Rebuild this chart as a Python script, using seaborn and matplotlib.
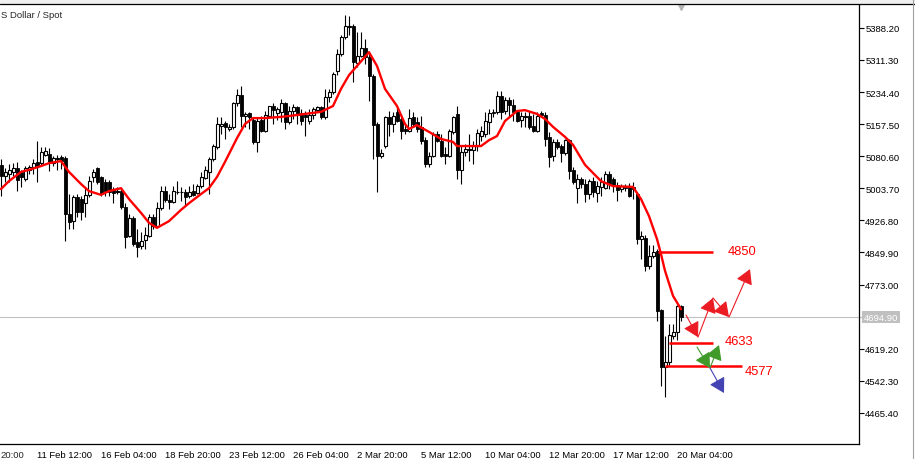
import numpy as np
import pandas as pd
import seaborn as sns
import matplotlib.pyplot as plt
import matplotlib.transforms as mtransforms
from matplotlib.lines import Line2D
from matplotlib.patches import Rectangle

# H4 candles (bar index 0 = left edge)
open_ = [5060, 5033, 5038, 5043, 5052, 5043, 5026, 5048, 5055, 5067,
         5064, 5084, 5086, 5064, 5074, 5079, 5076, 4942, 4925, 4983,
         4978, 4969, 4988, 5031, 5052, 5031, 5019, 5019, 5000, 4995,
         4997, 4959, 4889, 4933, 4875, 4865, 4880, 4889, 4935, 4913,
         4956, 4997, 4976, 4971, 4994, 4994, 4995, 4985, 4997, 4993,
         5009, 5028, 5043, 5074, 5103, 5153, 5160, 5146, 5151, 5208,
         5227, 5177, 5184, 5167, 5115, 5167, 5141, 5177, 5201, 5184,
         5187, 5208, 5163, 5189, 5198, 5184, 5179, 5165, 5179, 5191,
         5198, 5175, 5223, 5235, 5285, 5326, 5367, 5390, 5393, 5304,
         5321, 5340, 5318, 5273, 5158, 5081, 5105, 5175, 5158, 5187,
         5170, 5146, 5141, 5175, 5163, 5151, 5119, 5062, 5081, 5134,
         5117, 5086, 5081, 5139, 5182, 5048, 5091, 5096, 5096, 5105,
         5129, 5134, 5163, 5187, 5187, 5225, 5189, 5215, 5203, 5187,
         5167, 5175, 5177, 5153, 5141, 5184, 5179, 5127, 5081, 5115,
         5105, 5088, 5119, 5048, 5004, 5026, 5014, 4990, 5021, 4993,
         5007, 5004, 5038, 5026, 5012, 5002, 5009, 5007, 5007, 4990,
         4882, 4885, 4817, 4841, 4854, 4712, 4575, 4587, 4650, 4659,
         4722]
high = [5074, 5052, 5062, 5064, 5067, 5048, 5057, 5060, 5074, 5117,
        5103, 5103, 5100, 5081, 5084, 5084, 5081, 4990, 4988, 4990,
        4985, 5007, 5033, 5050, 5055, 5033, 5026, 5024, 5007, 5007,
        5005, 4969, 4942, 4937, 4906, 4899, 4911, 4942, 4942, 4971,
        5009, 5009, 4990, 5009, 5021, 5007, 5002, 5009, 5014, 5014,
        5043, 5057, 5079, 5110, 5175, 5175, 5165, 5158, 5211, 5242,
        5249, 5187, 5187, 5175, 5175, 5177, 5189, 5201, 5208, 5198,
        5218, 5211, 5201, 5206, 5201, 5194, 5189, 5194, 5198, 5201,
        5201, 5242, 5242, 5282, 5338, 5371, 5419, 5417, 5398, 5378,
        5378, 5362, 5330, 5278, 5163, 5098, 5177, 5189, 5187, 5198,
        5177, 5158, 5194, 5187, 5175, 5177, 5127, 5091, 5139, 5141,
        5134, 5103, 5146, 5177, 5201, 5105, 5110, 5134, 5117, 5146,
        5153, 5187, 5194, 5194, 5237, 5237, 5223, 5223, 5218, 5189,
        5187, 5187, 5189, 5182, 5187, 5189, 5187, 5139, 5122, 5122,
        5110, 5122, 5122, 5055, 5038, 5031, 5026, 5026, 5031, 5021,
        5031, 5045, 5045, 5031, 5019, 5014, 5014, 5016, 5019, 4995,
        4901, 4892, 4868, 4868, 4858, 4714, 4650, 4678, 4678, 4724,
        4724]
low = [4985, 5019, 5019, 5033, 4997, 5007, 5021, 5038, 5038, 5019,
       5060, 5081, 5045, 5057, 5048, 5050, 4877, 4906, 4906, 4935,
       4928, 4935, 4983, 5019, 5014, 4985, 4985, 4985, 4969, 4990,
       4954, 4861, 4887, 4865, 4839, 4858, 4858, 4887, 4906, 4911,
       4952, 4971, 4954, 4969, 4990, 4973, 4961, 4981, 4985, 4990,
       5005, 5026, 4990, 5069, 5098, 5134, 5122, 5141, 5146, 5201,
       5151, 5151, 5146, 5110, 5091, 5139, 5139, 5175, 5158, 5167,
       5163, 5146, 5158, 5170, 5158, 5155, 5129, 5158, 5170, 5187,
       5170, 5170, 5211, 5230, 5275, 5321, 5362, 5371, 5259, 5295,
       5318, 5302, 5213, 5074, 4995, 5076, 5100, 5129, 5139, 5163,
       5122, 5134, 5139, 5151, 5139, 5110, 5055, 5055, 5079, 5115,
       5079, 5062, 5079, 5134, 5026, 5014, 5081, 5069, 5062, 5093,
       5117, 5127, 5134, 5175, 5182, 5170, 5182, 5175, 5165, 5163,
       5151, 5151, 5146, 5139, 5139, 5175, 5105, 5055, 5069, 5098,
       5067, 5084, 5026, 5014, 4969, 5004, 4971, 4978, 4983, 4971,
       4985, 5002, 5002, 4995, 4973, 4995, 4997, 4983, 4978, 4870,
       4834, 4806, 4810, 4837, 4686, 4530, 4503, 4580, 4642, 4640,
       4686]
close = [5033, 5043, 5048, 5052, 5024, 5031, 5052, 5055, 5064, 5057,
         5091, 5093, 5064, 5076, 5076, 5069, 4942, 4923, 4983, 4947,
         4947, 4988, 5021, 5043, 5019, 4990, 4997, 4995, 4993, 4997,
         4959, 4887, 4933, 4870, 4863, 4877, 4892, 4935, 4913, 4956,
         4997, 4976, 4971, 4997, 4995, 4995, 4983, 4995, 4988, 5009,
         5031, 5048, 5074, 5105, 5158, 5158, 5151, 5151, 5208, 5227,
         5177, 5182, 5175, 5115, 5165, 5141, 5179, 5201, 5191, 5194,
         5208, 5163, 5189, 5198, 5179, 5165, 5175, 5179, 5194, 5198,
         5175, 5223, 5235, 5278, 5326, 5367, 5393, 5393, 5306, 5321,
         5340, 5318, 5273, 5156, 5081, 5088, 5175, 5158, 5177, 5165,
         5141, 5141, 5172, 5158, 5146, 5117, 5062, 5081, 5134, 5117,
         5081, 5081, 5141, 5175, 5048, 5091, 5098, 5098, 5105, 5136,
         5141, 5165, 5184, 5184, 5225, 5187, 5215, 5203, 5187, 5165,
         5177, 5177, 5151, 5141, 5177, 5179, 5122, 5079, 5115, 5103,
         5088, 5119, 5045, 5019, 5026, 5014, 4990, 5021, 4995, 5009,
         5019, 5038, 5014, 5012, 5000, 5009, 5004, 4985, 5002, 4882,
         4889, 4817, 4841, 4851, 4710, 4575, 4587, 4652, 4659, 4722,
         4694.9]

# red moving average, read at selected bars
ma_bar = [0, 2, 5, 7, 10, 12, 15, 17, 20, 22, 25, 27, 30, 32, 35, 37, 39, 42, 45, 47,
          50, 52, 54, 56, 59, 61, 63, 66, 70, 72, 76, 80, 83, 85, 87, 89, 92, 94, 96, 99,
          101, 102, 104, 107, 110, 113, 114, 120, 122, 124, 126, 129, 131, 134, 136, 138,
          141, 143, 146, 150, 153, 158, 160, 162, 164, 165, 166, 168, 170]
ma_val = [5002, 5021, 5043, 5048, 5057, 5064, 5069, 5043, 5014, 4997, 4988, 4997, 5004,
          4978, 4945, 4921, 4909, 4925, 4952, 4968, 4990, 5004, 5031, 5067, 5124, 5158,
          5172, 5172, 5175, 5177, 5182, 5187, 5201, 5242, 5275, 5297, 5330, 5297, 5242,
          5201, 5158, 5146, 5155, 5139, 5122, 5115, 5105, 5105, 5119, 5129, 5165, 5189,
          5191, 5182, 5170, 5151, 5127, 5108, 5060, 5021, 5009, 5007, 4978, 4937, 4882,
          4846, 4806, 4746, 4714]

current_price = 4694.9

# drawn levels
level_price = [4850, 4633, 4577]
level_from = [164.25, 167, 166]
level_to = [178, 178, 185.25]
level_text_x = [181.75, 181, 186]
level_text_y = [4854, 4638, 4566]

# drawn arrows: (bar0, price0, bar1, price1)
red_arrows = [(171.25, 4700, 174.25, 4647), (174.25, 4647, 178, 4741),
              (178, 4741, 182, 4695), (182, 4695, 187.25, 4810)]
green_arrows = [(174, 4623, 177.25, 4573), (177.25, 4573, 179.5, 4628)]
blue_arrows = [(177.25, 4573, 180.75, 4513)]

tick_bars = [9, 25, 41, 57, 73, 89, 105, 121, 137, 153, 169]
tick_text = ['11 Feb 12:00', '16 Feb 04:00', '18 Feb 20:00', '23 Feb 12:00',
             '26 Feb 04:00', '2 Mar 20:00', '5 Mar 12:00', '10 Mar 04:00',
             '12 Mar 20:00', '17 Mar 12:00', '20 Mar 04:00']
price_ticks = [5388.2, 5311.3, 5234.4, 5157.5, 5080.6, 5003.7, 4926.8,
               4849.9, 4773.0, 4619.2, 4542.3, 4465.4]

sns.set_style('white')
plt.rcParams['font.family'] = ['Liberation Sans', 'DejaVu Sans']

bars = pd.DataFrame({'open': open_, 'high': high, 'low': low, 'close': close})
bars['bar'] = np.arange(len(bars))
up = bars[bars['close'] >= bars['open']]
down = bars[bars['close'] < bars['open']]

fig = plt.figure(figsize=(9.15, 4.6), dpi=100)
ax = fig.add_axes([0, 15 / 460, 859 / 915, 441 / 460])
ax.set_xlim(-0.25, 214.5)
ax.set_ylim(4390.8, 5447.9)

ax.axhline(current_price, color='#c0c0c0', lw=0.8, zorder=1)

ax.vlines(bars['bar'], bars['low'], bars['high'], color='black', lw=0.8, zorder=2)
ax.bar(down['bar'], down['open'] - down['close'], bottom=down['close'], width=0.75,
       color='black', edgecolor='black', lw=0.6, zorder=3)
ax.bar(up['bar'], np.maximum(up['close'] - up['open'], 0.5), bottom=up['open'], width=0.75,
       color='white', edgecolor='black', lw=0.8, zorder=3)

sns.lineplot(x=ma_bar, y=ma_val, color='red', lw=1.7, ax=ax, legend=False, zorder=4)

for p, x0, x1, tx, ty in zip(level_price, level_from, level_to, level_text_x, level_text_y):
    ax.hlines(p, x0, x1, color='red', lw=1.8, zorder=5)
    ax.text(tx, ty, str(p), color='red', fontsize=9.3, va='center', ha='left', zorder=6)

for group, col in [(red_arrows, '#ec1c24'), (green_arrows, '#3f9a2a'), (blue_arrows, '#4343b3')]:
    for x0, y0, x1, y1 in group:
        ax.annotate('', xy=(x1, y1), xytext=(x0, y0),
                    arrowprops=dict(arrowstyle='-|>,head_length=0.45,head_width=0.26',
                                    color=col, lw=0.8, mutation_scale=20,
                                    shrinkA=0, shrinkB=0), zorder=6)

# axes styling
ax.spines['left'].set_visible(False)
for s in ['top', 'right', 'bottom']:
    ax.spines[s].set_color('black')
    ax.spines[s].set_linewidth(0.9)
ax.yaxis.tick_right()
ax.set_yticks(price_ticks)
ax.set_yticklabels(['%.2f' % v for v in price_ticks])
ax.set_xticks(tick_bars)
ax.set_xticklabels(tick_text)
plt.setp(ax.get_xticklabels(), ha='left')
ax.tick_params(axis='both', direction='out', length=3.5, width=0.8, pad=1,
               labelsize=6.8, colors='black')
# tail of the label for the tick just left of the visible window
ax.annotate('20:00', xy=(0, 0), xycoords='axes fraction',
            xytext=(0, -4.5), textcoords='offset points', ha='left', va='top',
            fontsize=6.8, annotation_clip=False)

# current price tag on the right scale
blend = mtransforms.blended_transform_factory(ax.transAxes, ax.transData)
ax.plot([1, 1.005], [current_price, current_price], color='#c0c0c0', lw=0.8,
        transform=blend, clip_on=False)
ax.text(1.0055, current_price, '%.2f' % current_price, transform=blend, ha='left',
        va='center', color='white', fontsize=6.8,
        bbox=dict(boxstyle='square,pad=0.18', fc='#c0c0c0', ec='none'))

# chart shift marker
ax.plot([170], [5444], marker='v', ms=6.5, color='#b4b4b4', clip_on=False, zorder=7)

fig.patches.append(Rectangle((0, 456 / 460), 1, 4 / 460, transform=fig.transFigure,
                             color='#f0f0f0', zorder=0))
fig.lines.append(Line2D([0, 1], [455.5 / 460, 455.5 / 460], transform=fig.transFigure,
                        color='black', lw=0.9))
fig.lines.append(Line2D([912.5 / 915, 912.5 / 915], [0, 1], transform=fig.transFigure,
                        color='#a0a0a0', lw=0.8))
fig.text(0.001, 444 / 460, 'S Dollar / Spot', fontsize=6.8, ha='left', va='center')

plt.savefig('out.png', dpi=100)
